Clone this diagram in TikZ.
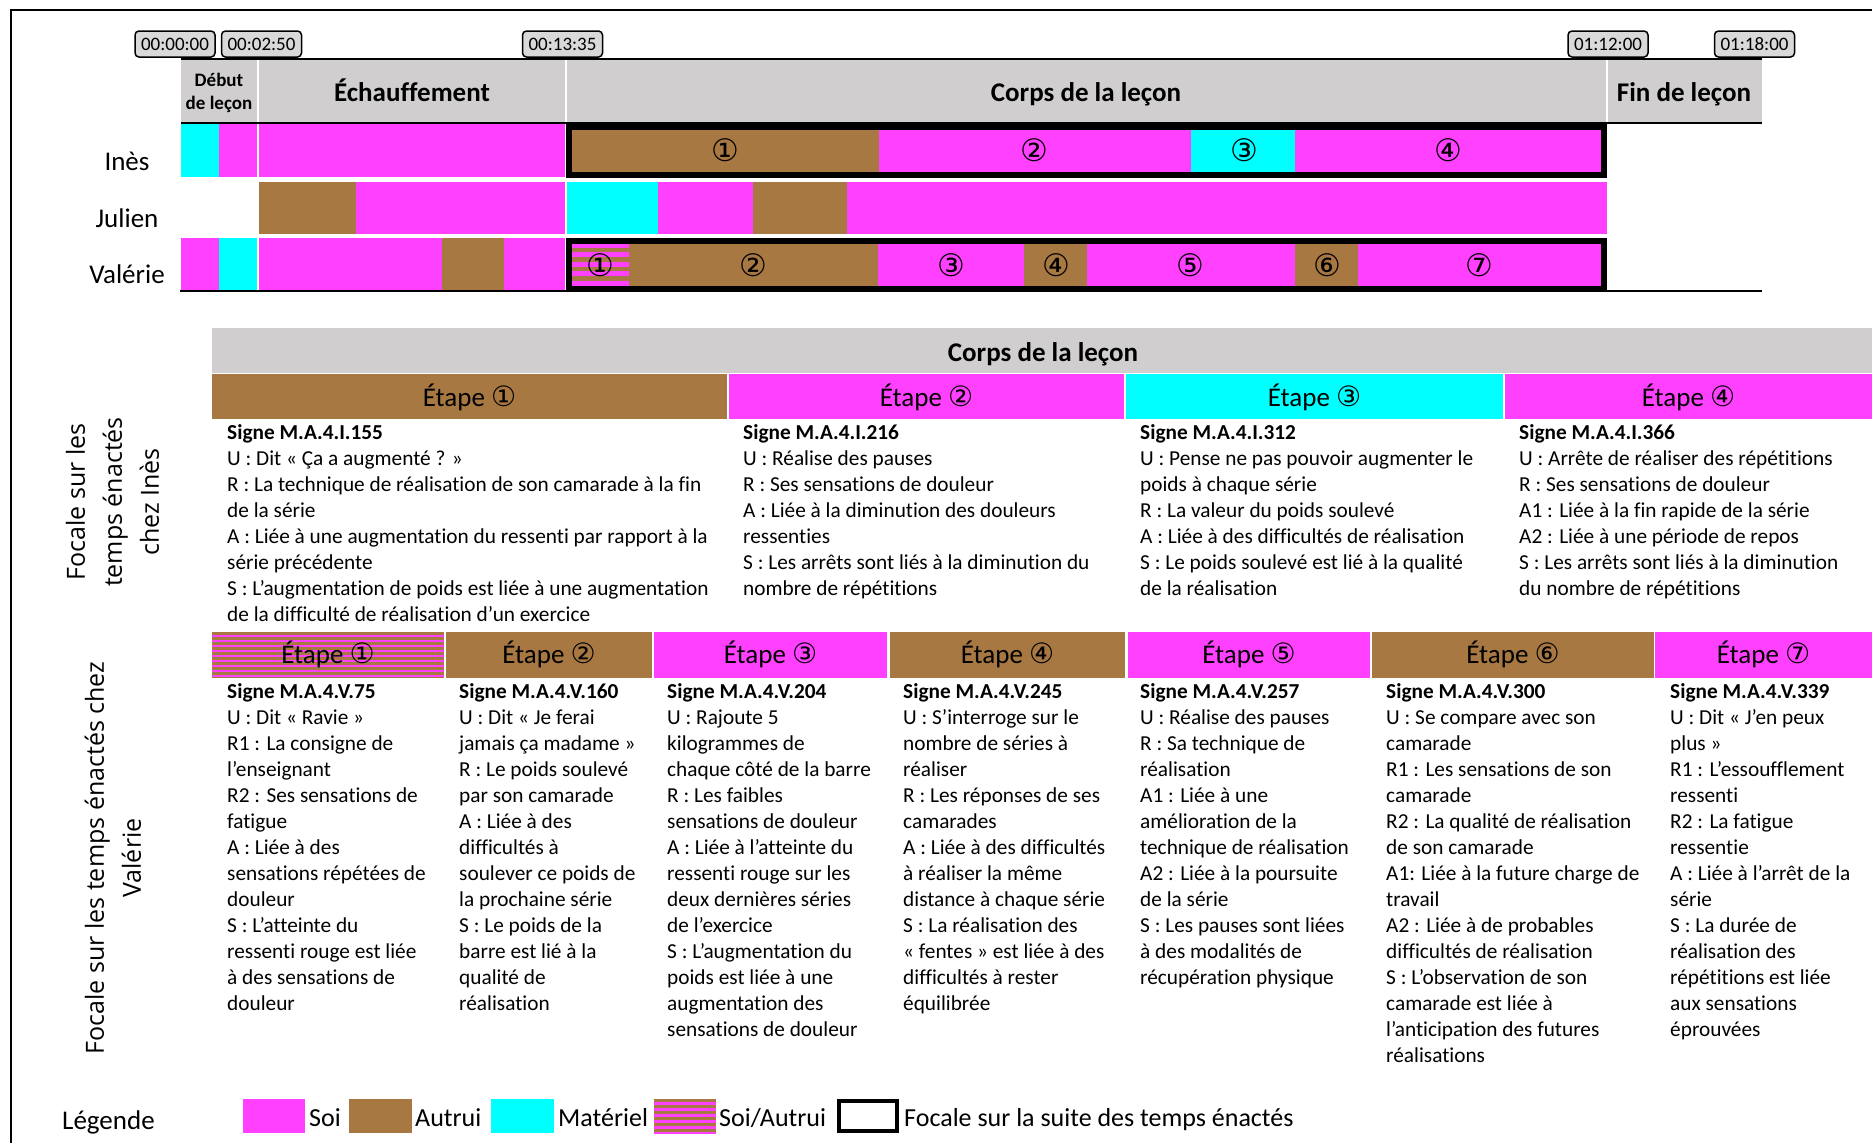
\documentclass[tikz,border=0pt]{standalone}
\usepackage{fontspec}
\setmainfont{Carlito}[Ligatures={NoCommon}]
\newfontfamily\sidefont{Open Sans}
\newfontfamily\circfont{DejaVu Sans}
\usepackage{tikz}
\usetikzlibrary{positioning}
\definecolor{soi}{HTML}{FF40FF}
\definecolor{autrui}{HTML}{A87843}
\definecolor{materiel}{HTML}{00FFFF}
\definecolor{headgray}{HTML}{D0CECE}
\definecolor{boxgray}{HTML}{D9D9D9}
\newcommand{\setfs}[2]{\fontsize{#1}{#2}\selectfont}
\newcommand{\cnum}[1]{{\circfont\setfs{28}{30}#1}}
\newcommand{\notes}[1]{\begin{tabular}[t]{@{}l@{}}#1\end{tabular}}
\newcommand{\ctab}[1]{\begin{tabular}[t]{@{}c@{}}#1\end{tabular}}
\newcommand{\soiautrui}[5]{%
  \begin{scope}
  \clip (#1,#2) rectangle (#3,#4);
  \fill[autrui] (#1,#2) rectangle (#3,#4);
  \foreach \k [evaluate=\k as \yy using #2+\k*#5] in {0,...,15}
    \fill[soi] (#1,\yy+#5/2) rectangle (#3,\yy+#5);
  \end{scope}}

\begin{document}
\begin{tikzpicture}[x=1pt,y=-1pt,
  timebox/.style={draw,line width=1.5pt,rounded corners=4pt,fill=boxgray,minimum width=80pt,minimum height=26pt,inner sep=0pt,font=\setfs{19}{22}},
  headtxt/.style={anchor=base,inner sep=0pt,font=\bfseries\setfs{27}{32}},
  nametxt/.style={anchor=base,inner sep=0pt,font=\setfs{27}{32}},
  numtxt/.style={inner sep=0pt,font=\circfont\setfs{31}{34}},
  etape/.style={anchor=base,inner sep=0pt,font=\setfs{27}{32}},
  notetxt/.style={anchor=base west,inner sep=0pt,font=\setfs{21.3}{26}},
  sidetxt/.style={rotate=90,align=center,inner sep=0pt,font=\sidefont\setfs{25}{37}},
  legtxt/.style={anchor=base west,inner sep=0pt,font=\setfs{26}{30}},
  focal/.style={draw=black,line width=6pt}]
\useasboundingbox (0,0) rectangle (1872,1143);
\draw[line width=2.2pt] (10.7,1150) -- (10.7,10) -- (1880,10);

% frise
\node[timebox] (t0) at (175,44) {00:00:00};
\node[timebox] (t1) at (261.5,44) {00:02:50};
\node[timebox] (t2) at (562.5,44) {00:13:35};
\node[timebox] (t3) at (1608,44) {01:12:00};
\node[timebox] (t4) at (1754.5,44) {01:18:00};
\foreach \xa/\xb in {181/257.3,258.7/565.3,566.7/1606.3,1607.7/1762}
  \fill[headgray] (\xa,60) rectangle (\xb,122.5);
\draw[line width=2pt] (181,59) -- (1762,59);
\draw[line width=1.5pt] (181,123) -- (1762,123);
\node[anchor=base,inner sep=0pt,font=\bfseries\setfs{19}{23}] (debut) at (219,86) {\ctab{Début\\de leçon}};
\node[headtxt] (echauf) at (412,101) {Échauffement};
\node[headtxt] (corps) at (1086,101) {Corps de la leçon};
\node[headtxt] (fin) at (1684,101) {Fin de leçon};

\foreach \xa/\xb/\col in {181/219/materiel,219/257.3/soi,258.7/565.3/soi,566/879/autrui,879/1191/soi,1191/1295/materiel,1295/1607/soi}
  \fill[\col] (\xa,124) rectangle (\xb,177);
\foreach \xa/\xb/\col in {258.7/356/autrui,356/565.3/soi,566.7/658/materiel,658/753/soi,753/847/autrui,847/1607/soi}
  \fill[\col] (\xa,182) rectangle (\xb,234);
\foreach \xa/\xb/\col in {181/219/soi,219/257.3/materiel,258.7/442/soi,442/504/autrui,504/565.3/soi,629/878/autrui,878/1024/soi,1024/1087/autrui,1087/1295/soi,1295/1358/autrui,1358/1607/soi}
  \fill[\col] (\xa,238) rectangle (\xb,290);
\soiautrui{566}{238}{629}{290}{9.5}
\draw[focal] (569,127) rectangle (1604,174.5);
\draw[focal] (569,240.5) rectangle (1604,289);
\draw[line width=2pt] (180,291) -- (1762,291);

\node[nametxt] (ines) at (127,170) {Inès};
\node[nametxt] (julien) at (127,227) {Julien};
\node[nametxt] (valerie) at (127,283) {Valérie};
\foreach \x/\cn/\nn in {725/①/1,1034/②/2,1244/③/3,1448/④/4}
  \node[numtxt] (i\nn) at (\x,150) {\cn};
\foreach \x/\cn/\nn in {600/①/1,753/②/2,951/③/3,1056/④/4,1190/⑤/5,1327/⑥/6,1479/⑦/7}
  \node[numtxt] (v\nn) at (\x,265) {\cn};

% Ines
\fill[headgray] (212,328) rectangle (1872,373);
\node[headtxt] (corps2) at (1043,361) {Corps de la leçon};
\foreach \xa/\xb/\col/\cn/\nn in {212/727/autrui/①/1,729/1124/soi/②/2,1126/1503/materiel/③/3,1505/1872/soi/④/4}{
  \fill[\col] (\xa,374) rectangle (\xb,419);
  \node[etape] (etI\nn) at ({(\xa+\xb)/2},406) {Étape \cnum{\cn}};
}
\node[sidetxt] (focI) at (112.5,502) {Focale sur les\\temps énactés\\chez Inès};
\node[notetxt] (nI1) at (227,439) {\notes{\textbf{Signe M.A.4.I.155}\\U : Dit « Ça a augmenté ? »\\R : La technique de réalisation de son camarade à la fin\\de la série\\A : Liée à une augmentation du ressenti par rapport à la\\série précédente\\S : L’augmentation de poids est liée à une augmentation\\de la difficulté de réalisation d’un exercice}};
\node[notetxt] (nI2) at (743,439) {\notes{\textbf{Signe M.A.4.I.216}\\U : Réalise des pauses\\R : Ses sensations de douleur\\A : Liée à la diminution des douleurs\\ressenties\\S : Les arrêts sont liés à la diminution du\\nombre de répétitions}};
\node[notetxt] (nI3) at (1140,439) {\notes{\textbf{Signe M.A.4.I.312}\\U : Pense ne pas pouvoir augmenter le\\poids à chaque série\\R : La valeur du poids soulevé\\A : Liée à des difficultés de réalisation\\S : Le poids soulevé est lié à la qualité\\de la réalisation}};
\node[notetxt] (nI4) at (1519,439) {\notes{\textbf{Signe M.A.4.I.366}\\U : Arrête de réaliser des répétitions\\R : Ses sensations de douleur\\A1 : Liée à la fin rapide de la série\\A2 : Liée à une période de repos\\S : Les arrêts sont liés à la diminution\\du nombre de répétitions}};

% Valerie
\soiautrui{212}{632}{444}{678}{5}
\node[etape] (etV1) at (328,663) {Étape \cnum{①}};
\foreach \xa/\xb/\col/\cn/\nn in {446/652/autrui/②/2,654/887/soi/③/3,890/1125/autrui/④/4,1128/1370/soi/⑤/5,1372/1654/autrui/⑥/6,1655/1872/soi/⑦/7}{
  \fill[\col] (\xa,632) rectangle (\xb,678);
  \node[etape] (etV\nn) at ({(\xa+\xb)/2},663) {Étape \cnum{\cn}};
}
\node[sidetxt] (focV) at (113,858) {Focale sur les temps énactés chez\\Valérie};
\node[notetxt] (nV1) at (227,698) {\notes{\textbf{Signe M.A.4.V.75}\\U : Dit « Ravie »\\R1 : La consigne de\\l’enseignant\\R2 : Ses sensations de\\fatigue\\A : Liée à des\\sensations répétées de\\douleur\\S : L’atteinte du\\ressenti rouge est liée\\à des sensations de\\douleur}};
\node[notetxt] (nV2) at (459,698) {\notes{\textbf{Signe M.A.4.V.160}\\U : Dit « Je ferai\\jamais ça madame »\\R : Le poids soulevé\\par son camarade\\A : Liée à des\\difficultés à\\soulever ce poids de\\la prochaine série\\S : Le poids de la\\barre est lié à la\\qualité de\\réalisation}};
\node[notetxt] (nV3) at (667,698) {\notes{\textbf{Signe M.A.4.V.204}\\U : Rajoute 5\\kilogrammes de\\chaque côté de la barre\\R : Les faibles\\sensations de douleur\\A : Liée à l’atteinte du\\ressenti rouge sur les\\deux dernières séries\\de l’exercice\\S : L’augmentation du\\poids est liée à une\\augmentation des\\sensations de douleur}};
\node[notetxt] (nV4) at (903,698) {\notes{\textbf{Signe M.A.4.V.245}\\U : S’interroge sur le\\nombre de séries à\\réaliser\\R : Les réponses de ses\\camarades\\A : Liée à des difficultés\\à réaliser la même\\distance à chaque série\\S : La réalisation des\\« fentes » est liée à des\\difficultés à rester\\équilibrée}};
\node[notetxt] (nV5) at (1140,698) {\notes{\textbf{Signe M.A.4.V.257}\\U : Réalise des pauses\\R : Sa technique de\\réalisation\\A1 : Liée à une\\amélioration de la\\technique de réalisation\\A2 : Liée à la poursuite\\de la série\\S : Les pauses sont liées\\à des modalités de\\récupération physique}};
\node[notetxt] (nV6) at (1386,698) {\notes{\textbf{Signe M.A.4.V.300}\\U : Se compare avec son\\camarade\\R1 : Les sensations de son\\camarade\\R2 : La qualité de réalisation\\de son camarade\\A1: Liée à la future charge de\\travail\\A2 : Liée à de probables\\difficultés de réalisation\\S : L’observation de son\\camarade est liée à\\l’anticipation des futures\\réalisations}};
\node[notetxt] (nV7) at (1670,698) {\notes{\textbf{Signe M.A.4.V.339}\\U : Dit « J’en peux\\plus »\\R1 : L’essoufflement\\ressenti\\R2 : La fatigue\\ressentie\\A : Liée à l’arrêt de la\\série\\S : La durée de\\réalisation des\\répétitions est liée\\aux sensations\\éprouvées}};

% legende
\node[legtxt,font=\setfs{27}{30}] (leg) at (62,1129) {Légende};
\fill[soi] (243,1099) rectangle (305,1133);
\node[legtxt] (lsoi) at (309,1126) {Soi};
\fill[autrui] (349,1099) rectangle (412,1133);
\node[legtxt] (laut) at (415,1126) {Autrui};
\fill[materiel] (491,1099) rectangle (554,1133);
\node[legtxt] (lmat) at (558,1126) {Matériel};
\soiautrui{654}{1099}{716}{1133}{6}
\node[legtxt] (lsa) at (719,1126) {Soi/Autrui};
\draw[line width=4pt,fill=white] (839,1101) rectangle (897,1131);
\node[legtxt] (lfoc) at (904,1126) {Focale sur la suite des temps énactés};
\end{tikzpicture}
\end{document}
